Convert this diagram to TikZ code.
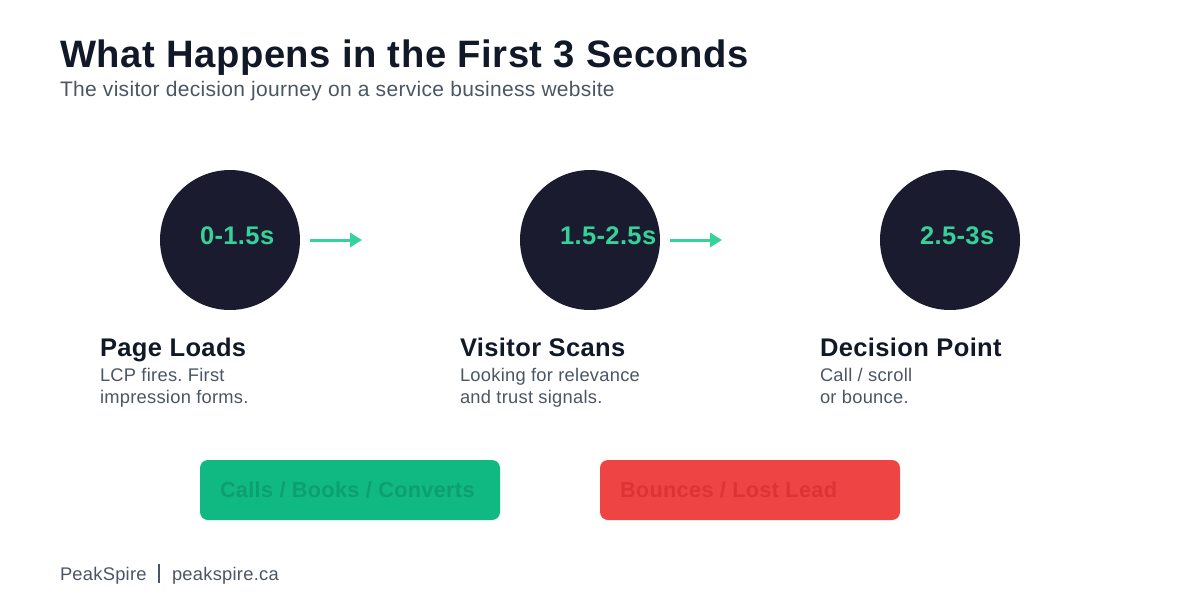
\documentclass[tikz,border=0pt]{standalone}
\usepackage{fontspec}
\setmainfont{Liberation Sans}[LetterSpace=1.5]
\usepackage{xcolor}
\definecolor{ink}{HTML}{111827}
\definecolor{muted}{HTML}{4B5563}
\definecolor{disc}{HTML}{1B1B2F}
\definecolor{mint}{HTML}{34D399}
\definecolor{okgreen}{HTML}{10B981}
\definecolor{okgreentext}{HTML}{0E9F6E}
\definecolor{badred}{HTML}{EF4444}
\definecolor{badredtext}{HTML}{DC3434}
\usetikzlibrary{arrows.meta, positioning}
\frenchspacing

\begin{document}
\begin{tikzpicture}[x=1pt, y=-1pt,
  every node/.style={inner sep=0pt, outer sep=0pt},
  stage/.style={circle, fill=disc, minimum size=140pt},
  timing/.style={anchor=west, text=mint, font=\bfseries\fontsize{25.5}{28}\selectfont},
  stagehead/.style={anchor=base west, text=ink, font=\bfseries\fontsize{25.5}{30}\selectfont},
  stagedesc/.style={anchor=north west, text=muted, align=left,
                    font=\fontsize{18.3}{22}\selectfont},
  outcome/.style={rectangle, rounded corners=8pt, fill=#1, minimum width=300pt,
                  minimum height=60pt},
  outtext/.style={anchor=west, text=#1, font=\bfseries\fontsize{21.7}{24}\selectfont},
  arr/.style={-{Triangle[length=12pt, width=14pt]}, line width=3pt, mint}
]
  \useasboundingbox (0,0) rectangle (1200,600);

  % title
  \node[anchor=base west, text=ink, font=\bfseries\fontsize{38.2}{44}\selectfont] (title)
    at (60,67) {What Happens in the First 3 Seconds};
  \node[anchor=base west, text=muted, font=\fontsize{21}{24}\selectfont] (subtitle)
    at (60,96) {The visitor decision journey on a service business website};

  % stages
  \node[stage] (s1) at (230,240) {};
  \node[stage] (s2) at (590,240) {};
  \node[stage] (s3) at (950,240) {};
  \node[timing] (t1) at (200,236) {0-1.5s};
  \node[timing] (t2) at (560,236) {1.5-2.5s};
  \node[timing] (t3) at (920,236) {2.5-3s};

  \coordinate (e1) at (362,240);
  \coordinate (e2) at (722,240);
  \draw[arr] ([xshift=10pt]s1.east) -- (e1);
  \draw[arr] ([xshift=10pt]s2.east) -- (e2);

  \node[stagehead] (h1) at (100,356) {Page Loads};
  \node[stagehead] (h2) at (460,356) {Visitor Scans};
  \node[stagehead] (h3) at (820,356) {Decision Point};
  \node[stagedesc] (d1) at (100,368) {LCP fires. First\\impression forms.};
  \node[stagedesc] (d2) at (460,368) {Looking for relevance\\and trust signals.};
  \node[stagedesc] (d3) at (820,368) {Call / scroll\\or bounce.};

  % outcomes
  \node[outcome=okgreen] (win) at (350,490) {};
  \node[outcome=badred] (lose) at (750,490) {};
  \node[outtext=okgreentext] (wintext) at (220,490) {Calls / Books / Converts};
  \node[outtext=badredtext] (losetext) at (620,490) {Bounces / Lost Lead};

  % footer
  \node[anchor=base west, text=muted, font=\fontsize{18.3}{22}\selectfont] (brand)
    at (60,580) {PeakSpire};
  \node[anchor=base west, text=muted, font=\fontsize{18.3}{22}\selectfont] (site)
    at (172,580) {peakspire.ca};
  \draw[muted, line width=1.3pt] (159,564) -- (159,583);
\end{tikzpicture}
\end{document}
